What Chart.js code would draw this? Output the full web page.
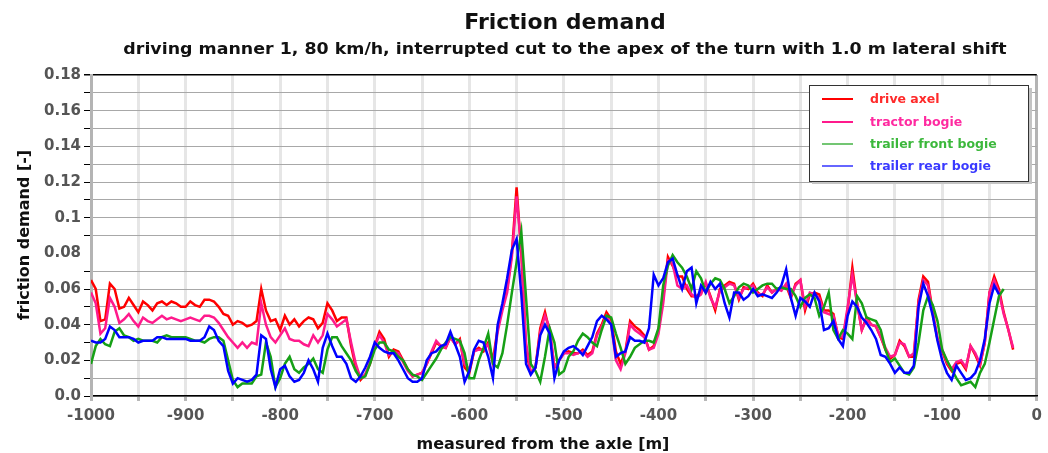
<!DOCTYPE html>
<html>
<head>
<meta charset="utf-8">
<script src="https://cdn.jsdelivr.net/npm/chart.js@4/dist/chart.umd.min.js"></script>
<style>
  html, body { margin: 0; padding: 0; background: #fff; }
  #wrap { width: 1048px; height: 453px; }
</style>
</head>
<body>
<div id="wrap"><canvas id="c" width="1048" height="453"></canvas></div>
<script>
// Distance measured from the axle [m], 5 m sampling
const distance = [
  -1000,-995,-990,-985,-980,-975,-970,-965,-960,-955,-950,-945,-940,-935,-930,-925,-920,-915,-910,-905,
  -900,-895,-890,-885,-880,-875,-870,-865,-860,-855,-850,-845,-840,-835,-830,-825,-820,-815,-810,-805,
  -800,-795,-790,-785,-780,-775,-770,-765,-760,-755,-750,-745,-740,-735,-730,-725,-720,-715,-710,-705,
  -700,-695,-690,-685,-680,-675,-670,-665,-660,-655,-650,-645,-640,-635,-630,-625,-620,-615,-610,-605,
  -600,-595,-590,-585,-580,-575,-570,-565,-560,-555,-550,-545,-540,-535,-530,-525,-520,-515,-510,-505,
  -500,-495,-490,-485,-480,-475,-470,-465,-460,-455,-450,-445,-440,-435,-430,-425,-420,-415,-410,-405,
  -400,-395,-390,-385,-380,-375,-370,-365,-360,-355,-350,-345,-340,-335,-330,-325,-320,-315,-310,-305,
  -300,-295,-290,-285,-280,-275,-270,-265,-260,-255,-250,-245,-240,-235,-230,-225,-220,-215,-210,-205,
  -200,-195,-190,-185,-180,-175,-170,-165,-160,-155,-150,-145,-140,-135,-130,-125,-120,-115,-110,-105,
  -100,-95,-90,-85,-80,-75,-70,-65,-60,-55,-50,-45,-40,-35,-30,-25
];

const driveAxel = [
  .065,.060,.042,.043,.063,.060,.049,.050,.055,.051,.047,.053,.051,.048,.052,.053,.051,.053,.052,.050,
  .050,.053,.051,.050,.054,.054,.053,.050,.046,.045,.040,.042,.041,.039,.040,.042,.060,.048,.042,.043,
  .037,.045,.040,.043,.039,.042,.044,.043,.038,.041,.052,.048,.042,.044,.044,.028,.016,.009,.012,.018,
  .028,.036,.032,.022,.026,.025,.020,.015,.011,.012,.013,.018,.024,.030,.028,.027,.033,.029,.032,.016,
  .013,.025,.027,.025,.030,.020,.038,.050,.060,.080,.117,.080,.025,.013,.016,.038,.047,.036,.016,.020,
  .024,.025,.024,.024,.026,.023,.025,.035,.040,.047,.043,.025,.018,.025,.042,.039,.037,.034,.026,.028,
  .037,.055,.078,.073,.067,.067,.060,.056,.056,.058,.063,.056,.048,.060,.062,.064,.063,.054,.061,.060,
  .063,.058,.056,.062,.058,.060,.060,.062,.055,.063,.065,.048,.057,.058,.057,.048,.048,.046,.033,.032,
  .048,.072,.052,.037,.044,.040,.039,.033,.026,.021,.023,.031,.028,.022,.022,.054,.067,.064,.047,.032,
  .025,.018,.014,.018,.019,.015,.028,.023,.017,.030,.058,.067,.060,.047,.037,.026
];

const tractorBogie = [
  .058,.052,.035,.038,.055,.050,.041,.043,.046,.042,.039,.044,.042,.041,.043,.045,.043,.044,.043,.042,
  .043,.044,.043,.042,.045,.045,.044,.041,.037,.033,.030,.027,.030,.027,.030,.029,.052,.040,.033,.030,
  .034,.038,.032,.031,.031,.029,.028,.034,.030,.034,.046,.043,.039,.041,.043,.030,.018,.010,.012,.019,
  .028,.034,.030,.023,.025,.024,.019,.014,.011,.012,.013,.018,.025,.031,.028,.027,.033,.029,.031,.018,
  .015,.025,.026,.026,.029,.018,.036,.048,.058,.078,.112,.082,.030,.013,.016,.036,.045,.038,.016,.020,
  .024,.024,.023,.024,.025,.022,.024,.034,.039,.045,.040,.020,.015,.024,.040,.037,.035,.033,.026,.027,
  .035,.052,.076,.074,.062,.060,.062,.057,.055,.057,.064,.055,.050,.059,.061,.063,.062,.055,.060,.061,
  .062,.057,.057,.061,.058,.060,.059,.063,.056,.062,.065,.050,.058,.057,.055,.047,.046,.045,.034,.033,
  .050,.068,.052,.037,.043,.040,.039,.033,.027,.022,.023,.030,.029,.022,.024,.052,.065,.062,.046,.032,
  .026,.019,.015,.019,.020,.016,.028,.024,.018,.030,.058,.065,.058,.046,.037,.027
];

const trailerFrontBogie = [
  .018,.028,.032,.029,.028,.036,.038,.034,.033,.031,.032,.031,.031,.031,.030,.033,.034,.033,.033,.033,
  .033,.032,.031,.031,.030,.032,.033,.033,.031,.020,.009,.005,.007,.007,.007,.011,.012,.030,.022,.005,
  .010,.018,.022,.015,.013,.016,.018,.021,.015,.013,.026,.033,.033,.028,.024,.020,.014,.010,.011,.018,
  .026,.030,.030,.026,.025,.022,.020,.015,.012,.011,.009,.013,.017,.021,.026,.030,.033,.032,.031,.024,
  .010,.010,.020,.027,.035,.018,.016,.024,.040,.058,.075,.092,.055,.018,.014,.008,.022,.038,.030,.012,
  .014,.022,.025,.031,.035,.033,.030,.028,.037,.045,.044,.035,.027,.018,.022,.027,.029,.031,.031,.030,
  .038,.062,.073,.079,.075,.072,.067,.060,.070,.066,.058,.063,.066,.065,.060,.052,.056,.061,.063,.062,
  .058,.060,.062,.063,.063,.060,.061,.060,.060,.056,.050,.055,.057,.055,.045,.050,.058,.037,.032,.037,
  .035,.032,.056,.052,.044,.043,.042,.037,.026,.019,.021,.017,.013,.012,.016,.030,.048,.056,.051,.042,
  .026,.020,.015,.010,.006,.007,.008,.005,.013,.018,.030,.043,.056,.060,null,null
];

const trailerRearBogie = [
  .031,.030,.030,.032,.039,.037,.033,.033,.033,.032,.030,.031,.031,.031,.033,.033,.032,.032,.032,.032,
  .032,.031,.031,.031,.033,.039,.037,.031,.028,.014,.007,.010,.009,.008,.009,.012,.034,.032,.015,.005,
  .015,.017,.011,.008,.009,.013,.020,.015,.008,.027,.035,.028,.022,.022,.018,.010,.008,.011,.016,.022,
  .030,.027,.025,.024,.024,.020,.015,.010,.008,.008,.010,.020,.024,.025,.028,.029,.036,.029,.022,.008,
  .014,.026,.031,.030,.022,.010,.040,.052,.066,.082,.088,.057,.018,.012,.016,.034,.040,.035,.010,.020,
  .025,.027,.028,.026,.023,.028,.033,.042,.045,.043,.040,.022,.024,.025,.033,.031,.031,.030,.038,.068,
  .062,.066,.075,.077,.068,.060,.070,.072,.052,.062,.058,.064,.060,.063,.052,.044,.058,.058,.054,.056,
  .060,.056,.057,.056,.055,.058,.062,.071,.055,.045,.055,.053,.050,.058,.053,.037,.038,.042,.032,.028,
  .045,.053,.050,.044,.041,.037,.032,.023,.022,.018,.013,.016,.013,.013,.017,.050,.063,.056,.045,.031,
  .020,.013,.009,.017,.013,.009,.010,.013,.020,.032,.052,.062,.057,null,null,null
];

// Axis tick labels
const xTickLabels = ['-1000','-900','-800','-700','-600','-500','-400','-300','-200','-100','0'];
const yTickLabels = ['0.0','0.02','0.04','0.06','0.08','0.1','0.12','0.14','0.16','0.18'];

const seriesNames = ['drive axel','tractor bogie','trailer front bogie','trailer rear bogie'];
const seriesColors = ['#ff0000','#ff1a8c','#16a016','#0000ff'];
const legendTextColors = ['#ff2a2a','#ff2aa0','#3cb83c','#3a3aff'];

const titleText = 'Friction demand';
const subtitleText = 'driving manner 1, 80 km/h, interrupted cut to the apex of the turn with 1.0 m lateral shift';
const xTitle = 'measured from the axle [m]';
const yTitle = 'friction demand [-]';

const FONT = '"DejaVu Sans", Verdana, sans-serif';

function toPoints(values) {
  return distance.map((x, i) => ({ x: x, y: values[i] }));
}

const allSeries = [driveAxel, tractorBogie, trailerFrontBogie, trailerRearBogie];

const datasets = allSeries.map((vals, k) => ({
  label: seriesNames[k],
  data: toPoints(vals),
  borderColor: seriesColors[k],
  backgroundColor: seriesColors[k],
  borderWidth: 2.5,
  pointRadius: 0,
  tension: 0,
  spanGaps: false,
  order: 4 - k
}));

// Draw text centred at (x, y), stretched horizontally by sx
function wideText(ctx, text, x, y, sx) {
  ctx.save();
  ctx.translate(x, y);
  ctx.scale(sx, 1);
  ctx.fillText(text, 0, 0);
  ctx.restore();
}

// Titles, axis titles and the boxed legend inside the plot area
const decor = {
  id: 'decor',
  afterDraw(chart) {
    const ctx = chart.ctx;
    ctx.save();
    ctx.fillStyle = '#111';
    ctx.textAlign = 'center';
    ctx.textBaseline = 'alphabetic';
    ctx.font = 'bold 22px ' + FONT;
    ctx.fillText(titleText, 565, 29);
    ctx.font = 'bold 15px ' + FONT;
    wideText(ctx, subtitleText, 565, 54, 1.16);
    ctx.font = 'bold 16px ' + FONT;
    ctx.fillText(xTitle, 543, 449);
    ctx.save();
    ctx.translate(29, 235);
    ctx.rotate(-Math.PI / 2);
    ctx.font = 'bold 16px ' + FONT;
    ctx.fillText(yTitle, 0, 0);
    ctx.restore();

    // legend box
    const bx = 809, by = 85, bw = 219, bh = 96;
    ctx.fillStyle = '#c4c4c4';
    ctx.fillRect(bx + bw, by + 3, 4, bh);
    ctx.fillRect(bx + 3, by + bh, bw + 1, 3);
    ctx.fillStyle = '#ffffff';
    ctx.fillRect(bx, by, bw, bh);
    ctx.strokeStyle = '#333';
    ctx.lineWidth = 1;
    ctx.strokeRect(bx + 0.5, by + 0.5, bw, bh);
    const rows = [99, 122, 144, 166];
    ctx.textAlign = 'left';
    ctx.textBaseline = 'middle';
    ctx.font = 'bold 12.5px ' + FONT;
    for (let k = 0; k < 4; k++) {
      ctx.strokeStyle = seriesColors[k];
      ctx.lineWidth = k < 2 ? 2 : 1.2;
      ctx.beginPath();
      ctx.moveTo(822, rows[k]);
      ctx.lineTo(853, rows[k]);
      ctx.stroke();
      ctx.fillStyle = legendTextColors[k];
      ctx.fillText(seriesNames[k], 870, rows[k] + 1);
    }
    ctx.restore();
  }
};

function yIndex(v) { return Math.round(v * 100); }

new Chart(document.getElementById('c'), {
  type: 'line',
  data: { datasets: datasets },
  plugins: [decor],
  options: {
    responsive: false,
    animation: false,
    devicePixelRatio: 1,
    layout: { padding: { top: 75, right: 7, left: 0, bottom: 0 } },
    plugins: { legend: { display: false }, title: { display: false }, tooltip: { enabled: false } },
    scales: {
      x: {
        type: 'linear',
        min: -1000,
        max: 0,
        afterFit(scale) { scale.height = 57; },
        ticks: {
          stepSize: 50,
          autoSkip: false,
          maxRotation: 0,
          padding: 6,
          color: '#555',
          font: { family: FONT, size: 15, weight: 'bold' },
          callback(v) {
            const k = Math.round((v + 1000) / 50);
            return k % 2 === 0 ? xTickLabels[k / 2] : '';
          }
        },
        grid: {
          color(c) { return c.tick && c.tick.value === 0 ? '#b4b4b4' : '#e6e6e6'; },
          lineWidth: 3,
          tickLength: 5,
          tickColor: '#b8b8b8'
        },
        border: { color: '#000', width: 1.5 }
      },
      y: {
        type: 'linear',
        min: 0,
        max: 0.18,
        afterFit(scale) { scale.width = 91; },
        ticks: {
          stepSize: 0.01,
          autoSkip: false,
          padding: 3,
          color: '#555',
          font: { family: FONT, size: 15, weight: 'bold' },
          callback(v) {
            const k = yIndex(v);
            return k % 2 === 0 ? yTickLabels[k / 2] : '';
          }
        },
        grid: {
          color(c) {
            const k = c.tick ? yIndex(c.tick.value) : -1;
            if (k === 18) return '#000';
            if (k === 3 || k === 8) return 'rgba(0,0,0,0)';
            return '#a8a8a8';
          },
          lineWidth(c) { return c.tick && yIndex(c.tick.value) === 18 ? 1.5 : 1; },
          tickLength: 7,
          tickColor(c) {
            const k = c.tick ? yIndex(c.tick.value) : -1;
            return k === 8 ? 'rgba(0,0,0,0)' : '#000';
          }
        },
        border: { color: '#b4b4b4', width: 3 }
      }
    }
  }
});
</script>
</body>
</html>
